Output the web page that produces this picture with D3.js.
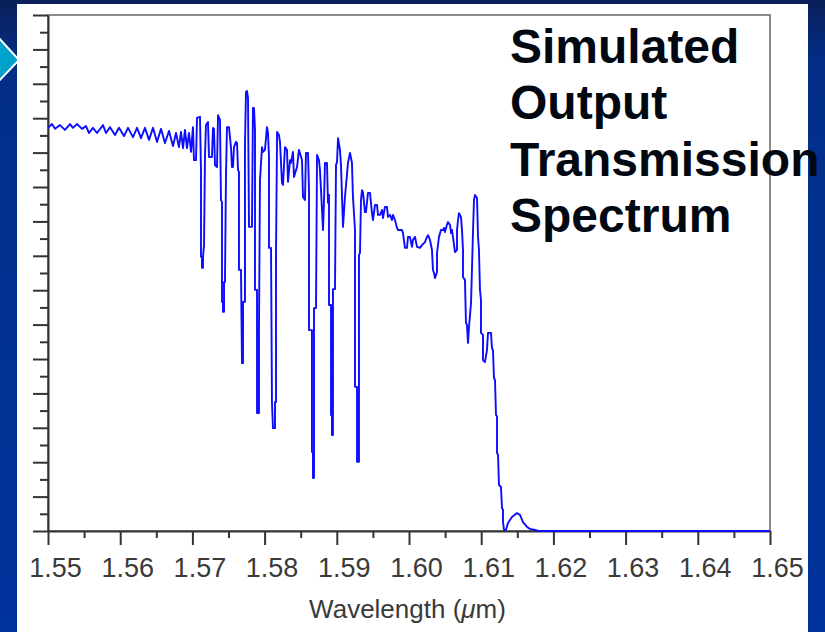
<!DOCTYPE html>
<html><head><meta charset="utf-8">
<script src="https://cdn.jsdelivr.net/npm/d3@7"></script>
<style>html,body{margin:0;padding:0;overflow:hidden;background:#00339a}</style>
</head><body>
<svg id="c" width="825" height="632"></svg>
<script>
// Wavelength in nm, transmission in arbitrary units (0..15 major divisions)
const spectrumRipple = [
[1550.00,11.72],[1550.55,11.83],[1550.97,11.69],[1551.66,11.80],[1552.35,11.66],[1553.05,11.83],
[1553.46,11.72],[1554.02,11.83],[1554.71,11.69],[1555.26,11.77],[1555.68,11.57],[1556.23,11.72],
[1556.79,11.57],[1557.62,11.80],[1558.03,11.57],[1558.59,11.74],[1559.28,11.51],[1559.83,11.72],
[1560.53,11.48],[1561.08,11.72],[1561.77,11.45],[1562.33,11.72],[1562.88,11.42],[1563.43,11.72],
[1563.99,11.37],[1564.54,11.72],[1565.10,11.31],[1565.65,11.69],[1566.20,11.28],[1566.76,11.63],
[1567.31,11.19],[1567.73,11.57],[1568.14,11.16],[1568.42,11.60],[1568.70,11.13],[1568.97,11.66],
[1569.25,11.13],[1569.53,11.57],[1569.81,11.02],[1570.08,11.74],[1570.22,10.78],[1570.50,10.78],
[1570.64,12.01],[1571.05,12.04]
];
const spectrumDips = [
[1571.19,10.49],[1571.19,7.97],[1571.33,7.97],[1571.33,7.65],[1571.47,7.65],[1571.47,7.97],
[1571.61,8.31],[1571.74,10.87],[1571.88,11.80],[1572.16,11.89],[1572.30,10.87],[1572.71,10.87],
[1572.85,11.72],[1572.99,11.69],[1573.13,10.64],[1573.41,10.58],[1573.55,12.09],[1573.82,11.95],
[1573.96,9.62],[1574.10,9.56],[1574.10,6.66],[1574.24,6.66],[1574.24,6.37],[1574.38,6.37],
[1574.38,7.24],[1574.51,7.24],[1574.65,10.29],[1574.79,11.74],[1575.07,11.74],[1575.35,11.13],
[1575.48,10.58],[1575.62,10.58],[1575.76,11.16],[1576.04,11.31],[1576.18,11.28],[1576.32,10.49],
[1576.45,10.44],[1576.45,7.59],[1576.73,7.59],[1576.87,4.88],[1577.01,4.88],[1577.01,6.66],
[1577.28,6.66],[1577.28,11.22],[1577.42,12.76],[1577.56,12.79],[1577.70,12.59],[1577.84,8.84],
[1578.25,8.84],[1578.39,12.30],[1578.53,12.30],[1578.67,11.66],[1578.67,7.01],[1578.95,7.01],
[1578.95,3.43],[1579.22,3.43],[1579.22,5.84],[1579.36,10.20],[1579.64,11.16],[1579.78,11.02],
[1580.05,11.08],[1580.33,11.74],[1580.47,11.57],[1580.61,10.87],[1580.61,8.23],[1580.89,8.23],
[1581.02,3.75],[1581.16,2.99],[1581.44,2.99],[1581.44,3.75],[1581.58,3.75],[1581.58,8.02],
[1581.72,11.37],[1581.72,11.60],[1581.99,11.51],[1582.13,11.31],[1582.41,10.12],[1582.55,10.06],
[1582.82,11.16],[1583.10,11.08],[1583.24,10.15],[1583.52,10.78],[1583.66,10.70],[1583.93,11.02],
[1584.07,10.29],[1584.35,10.49],[1584.49,10.58],[1584.76,11.08],[1585.18,10.78],[1585.32,9.71],
[1585.59,9.62],[1585.73,10.99],[1586.01,10.99],[1586.15,9.91],[1586.15,5.84],[1586.56,5.84],
[1586.56,2.30],[1586.70,2.30],[1586.70,1.54],[1586.84,1.54],[1586.84,6.48],[1587.12,6.48],
[1587.26,10.93],[1587.53,10.78],[1587.67,10.49],[1587.95,9.33],[1588.09,8.75],[1588.23,9.62],
[1588.36,10.70],[1588.64,10.70],[1588.78,9.54],[1588.92,9.77],[1588.92,6.57],[1589.20,6.57],
[1589.20,3.37],[1589.33,3.37],[1589.33,2.79],[1589.47,2.79],[1589.47,7.03],[1589.75,7.03],
[1589.89,10.64],[1590.03,10.73],[1590.17,11.42],[1590.44,11.08],[1590.58,10.64],[1590.86,8.84],
[1591.13,9.71],[1591.55,10.70],[1591.83,10.99],[1592.10,10.70],[1592.24,9.71],[1592.52,8.75],
[1592.52,4.19],[1592.80,4.19],[1592.80,2.01],[1593.07,2.01],[1593.07,8.02],[1593.21,8.08],
[1593.35,9.62],[1593.49,9.91],[1593.63,9.85],[1593.90,9.27],[1594.04,9.27],[1594.32,9.83],
[1594.60,9.83],[1594.87,9.24],[1595.01,9.04],[1595.29,9.48],[1595.57,9.48],[1595.71,9.19],
[1595.98,9.19],[1596.26,9.33],[1596.40,9.10],[1596.67,9.42],[1596.95,9.42],[1597.09,9.13],
[1597.37,9.19],[1597.64,9.04],[1597.78,9.19],[1598.06,9.04],[1598.34,8.81],[1598.48,8.75],
[1599.03,8.75],[1599.17,8.66],[1599.44,8.23],[1599.72,8.23],[1599.86,8.55],[1600.14,8.55],
[1600.41,8.26],[1600.55,8.46],[1600.83,8.55],[1601.11,8.26],[1601.52,8.23],[1601.80,8.31],
[1602.21,8.40],[1602.49,8.55],[1602.63,8.60],[1602.91,8.46],[1603.18,8.17],[1603.32,7.59],
[1603.46,7.50],[1603.60,7.35],[1603.88,7.53],[1603.88,8.08],[1604.15,8.55],[1604.43,8.75],
[1604.71,8.75],[1604.85,8.81],[1604.98,8.69],[1605.26,8.90],[1605.40,8.98],[1605.68,8.90],
[1605.82,8.66],[1605.95,8.75],[1606.09,8.55],[1606.37,8.11],[1606.65,8.17],[1606.65,8.75],
[1606.79,9.04],[1606.92,9.24],[1607.20,9.13],[1607.34,8.75],[1607.48,8.17],[1607.48,7.38],
[1607.75,7.30],[1607.89,6.05],[1608.03,5.99],[1608.17,5.47],[1608.31,5.93],[1608.59,6.63],
[1608.72,7.59],[1608.86,8.66],[1609.00,9.62],[1609.14,9.77],[1609.42,9.68],[1609.56,8.55],
[1609.69,8.17],[1609.83,7.01],[1609.97,6.72],[1609.97,5.76]
];
const spectrumEdge = [
[1610.25,5.70],[1610.25,4.97],[1610.52,4.91],[1610.80,5.26],[1610.94,5.76],[1611.36,5.76],
[1611.49,5.32],[1611.63,5.26],[1611.77,4.45],[1611.91,4.39],[1612.05,3.37],[1612.19,3.34],
[1612.19,2.27],[1612.33,2.21],[1612.46,1.34],[1612.74,1.28],[1612.88,0.67],[1613.02,0.61],
[1613.02,0.26],[1613.16,0.03],[1613.43,0.03],[1613.71,0.23],[1614.26,0.41],[1614.96,0.52],
[1615.37,0.47],[1615.79,0.26],[1616.34,0.12],[1616.76,0.06],[1617.45,0.03],[1617.87,0.00],
[1650.00,0.00]
];
const xTickValues = [1550,1560,1570,1580,1590,1600,1610,1620,1630,1640,1650];
const xTickLabels = ["1.55","1.56","1.57","1.58","1.59","1.60","1.61","1.62","1.63","1.64","1.65"];
const xMinorTicks = [1555,1565,1575,1585,1595,1605,1615,1625,1635,1645];
const yMajorTicks = [0,1,2,3,4,5,6,7,8,9,10,11,12,13,14,15];
const yMinorTicks = [0.5,1.5,2.5,3.5,4.5,5.5,6.5,7.5,8.5,9.5,10.5,11.5,12.5,13.5,14.5];
const titleLines = ["Simulated","Output","Transmission","Spectrum"];

const spectrum = spectrumRipple.concat(spectrumDips, spectrumEdge);
const FONT = "'Liberation Sans', Arial, Helvetica, sans-serif";

const svg = d3.select("#c");
const defs = svg.append("defs");
const grad = defs.append("linearGradient").attr("id","bg").attr("x1",0).attr("y1",0).attr("x2",0).attr("y2",1);
grad.append("stop").attr("offset","0%").attr("stop-color","#0b1f5a");
grad.append("stop").attr("offset","10%").attr("stop-color","#022e88");
grad.append("stop").attr("offset","100%").attr("stop-color","#00349d");
svg.append("rect").attr("width",825).attr("height",632).attr("fill","url(#bg)");
svg.append("polygon").attr("points","-4,35 19,60 -4,84")
  .attr("fill","#00a2cc").attr("stroke","#ffffff").attr("stroke-width",2);
svg.append("rect").attr("x",17).attr("y",4).attr("width",791).attr("height",640).attr("fill","#ffffff");

const x = d3.scaleLinear().domain([1550,1650]).range([48,770]);
const y = d3.scaleLinear().domain([0,15]).range([531,15]);

// frame
svg.append("rect").attr("x",x(1550)).attr("y",y(15)).attr("width",x(1650)-x(1550)).attr("height",y(0)-y(15))
  .attr("fill","none").attr("stroke","#666").attr("stroke-width",1.5);

function styleAxis(g){
  g.selectAll(".domain").attr("stroke","#333").attr("stroke-width",2);
  g.selectAll(".tick line").attr("stroke","#333").attr("stroke-width",2);
}
const gxMinor = svg.append("g").attr("transform",`translate(0,${y(0)})`)
  .call(d3.axisBottom(x).tickValues(xMinorTicks).tickSize(7).tickSizeOuter(0).tickFormat(""));
gxMinor.select(".domain").remove(); styleAxis(gxMinor);
const gyMinor = svg.append("g").attr("transform",`translate(${x(1550)},0)`)
  .call(d3.axisLeft(y).tickValues(yMinorTicks).tickSize(8).tickSizeOuter(0).tickFormat(""));
gyMinor.select(".domain").remove(); styleAxis(gyMinor);
const gy = svg.append("g").attr("transform",`translate(${x(1550)},0)`)
  .call(d3.axisLeft(y).tickValues(yMajorTicks).tickSize(15).tickSizeOuter(0).tickFormat(""));
styleAxis(gy);
const gx = svg.append("g").attr("transform",`translate(0,${y(0)})`)
  .call(d3.axisBottom(x).tickValues(xTickValues).tickSize(14).tickSizeOuter(0)
    .tickFormat((d,i)=>xTickLabels[i]));
styleAxis(gx);
gx.selectAll(".tick text").attr("y",46).attr("dy",0).attr("dx",7)
  .attr("font-family",FONT).attr("font-size",27).attr("fill","#3a3a3a");

// x-axis title
const xt = svg.append("text").attr("x",407.5).attr("y",618).attr("text-anchor","middle")
  .attr("font-family",FONT).attr("font-size",26).attr("fill","#3a3a3a");
xt.append("tspan").text("Wavelength (");
xt.append("tspan").attr("font-style","italic").text("\u03BC");
xt.append("tspan").text("m)");

// spectrum trace
const line = d3.line().x(d=>x(d[0])).y(d=>y(d[1]));
svg.append("path").datum(spectrum).attr("d",line)
  .attr("fill","none").attr("stroke","#0c0cff").attr("stroke-width",1.9).attr("stroke-linejoin","round");

// big title
svg.append("g").selectAll("text").data(titleLines).join("text")
  .attr("x",510).attr("y",(d,i)=>62.5+i*56.5)
  .attr("font-family",FONT).attr("font-weight","bold").attr("font-size",48).attr("fill","#020812")
  .text(d=>d);
</script>
</body></html>
